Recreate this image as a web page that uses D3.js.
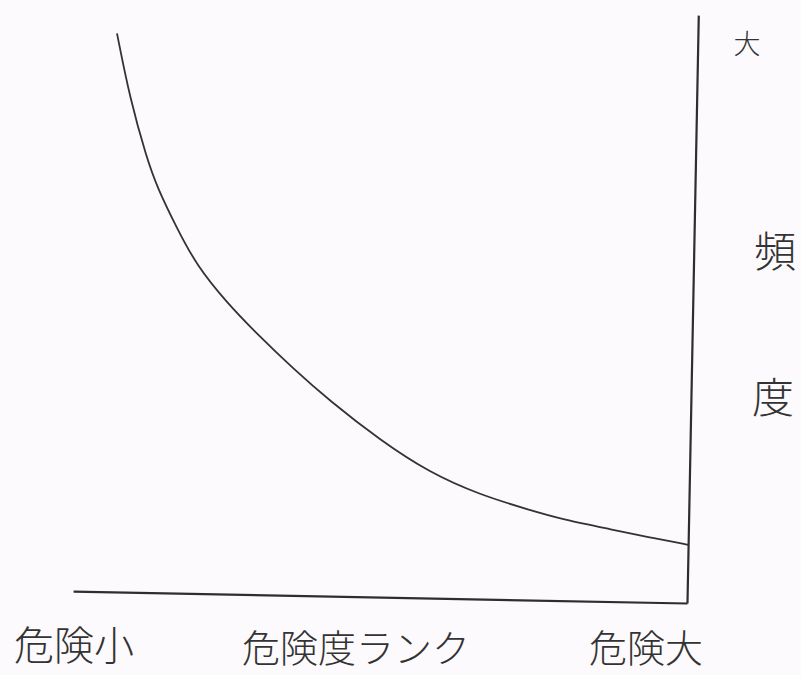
<!DOCTYPE html>
<html>
<head>
<meta charset="utf-8">
<script src="https://cdn.jsdelivr.net/npm/d3@7"></script>
<style>
  html, body { margin: 0; padding: 0; background: #fcfafc; }
  svg { display: block; }
  text { font-family: "Noto Sans CJK JP", "Noto Sans CJK SC", sans-serif; font-weight: 300; fill: #333; }
</style>
</head>
<body>
<div id="chart"></div>
<script>
// curve (risk rank 0-100 left to right, frequency 0-100 bottom to top)
const riskRank = [5.4, 7.7, 10.6, 12.4, 15.8, 19.1, 24.1, 29.2, 35.1, 41.2, 49.5, 57.7, 66.0, 74.1, 79.5, 87.8, 93.3, 100];
const frequency = [95, 84, 74, 69, 62, 55.8, 49.6, 44.3, 38.6, 33.2, 26.7, 21.3, 17.7, 15.3, 13.8, 12.2, 11.1, 9.9];

// labels
const xLabels = ["危険小", "危険度ランク", "危険大"];
const yLabels = ["大", "頻", "度"];

const W = 801, H = 675;

const svg = d3.select("#chart").append("svg")
    .attr("width", W)
    .attr("height", H);

const x = d3.scaleLinear().domain([0, 100]).range([73, 687]);
const y = d3.scaleLinear().domain([0, 100]).range([603, 15]);

// the scan is tilted a little, so the drawing is turned around the corner
const g = svg.append("g")
    .attr("transform", "rotate(1.1, 687, 603)");

// axes: plain lines, no ticks
const xAxis = g.append("g")
    .attr("transform", `translate(0,${y(0)})`)
    .call(d3.axisBottom(x).tickValues([]).tickSizeOuter(0));

const yAxis = g.append("g")
    .attr("transform", `translate(${x(100)},0)`)
    .call(d3.axisRight(y).tickValues([]).tickSizeOuter(0));

[xAxis, yAxis].forEach(a => a.select(".domain")
    .attr("stroke", "#2e2e2e")
    .attr("stroke-width", 2.2));

const pts = riskRank.map((r, i) => ({ r: r, f: frequency[i] }));

const line = d3.line()
    .x(d => x(d.r))
    .y(d => y(d.f))
    .curve(d3.curveBasis);

g.append("path")
    .datum(pts)
    .attr("d", line)
    .attr("fill", "none")
    .attr("stroke", "#333")
    .attr("stroke-width", 1.8);

// bottom labels
const xPos = [
  { x: 74, y: 660, size: 40 },
  { x: 356, y: 662, size: 38 },
  { x: 646, y: 662, size: 38 }
];
svg.selectAll(".xlab")
  .data(xLabels)
  .enter()
  .append("text")
    .attr("class", "xlab")
    .attr("x", (d, i) => xPos[i].x)
    .attr("y", (d, i) => xPos[i].y)
    .attr("text-anchor", "middle")
    .style("font-size", (d, i) => xPos[i].size + "px")
    .text(d => d);

// right side labels
const yPos = [
  { x: 747, y: 54, size: 27 },
  { x: 775, y: 267, size: 42 },
  { x: 773, y: 413, size: 42 }
];
svg.selectAll(".ylab")
  .data(yLabels)
  .enter()
  .append("text")
    .attr("class", "ylab")
    .attr("x", (d, i) => yPos[i].x)
    .attr("y", (d, i) => yPos[i].y)
    .attr("text-anchor", "middle")
    .style("font-size", (d, i) => yPos[i].size + "px")
    .text(d => d);
</script>
</body>
</html>
